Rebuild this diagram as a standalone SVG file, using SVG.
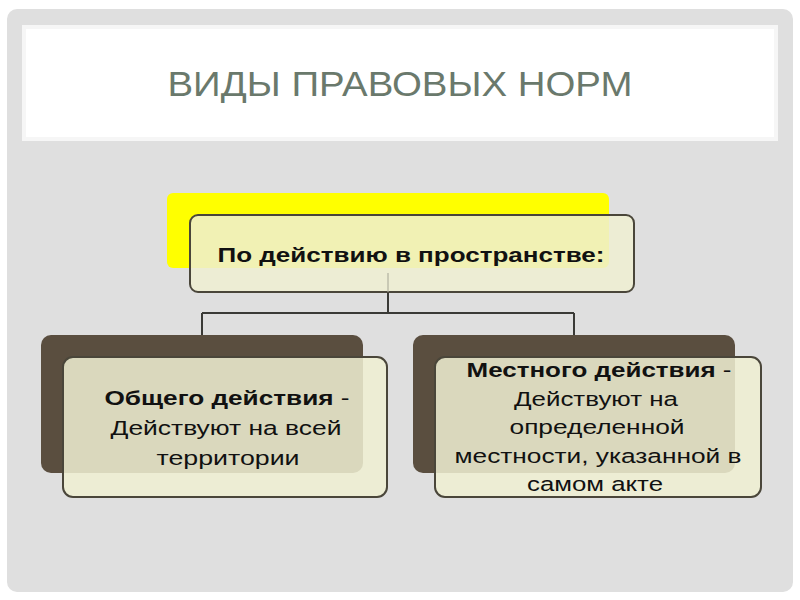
<svg xmlns="http://www.w3.org/2000/svg" width="800" height="600" viewBox="0 0 800 600">
<style>
.back{fill:#5a4e3f}
.front{fill:#efefd2;fill-opacity:0.86;stroke:#4a463a;stroke-width:2}
.t{font-family:"Liberation Sans",Arial,sans-serif;font-size:20.5px;fill:#111;text-anchor:middle}
.b{font-weight:bold}
.conn{stroke:#3a3a36;stroke-width:2;fill:none}
</style>
<rect width="800" height="600" fill="#ffffff"/>
<rect x="7" y="9" width="786" height="583" rx="10" fill="#dfdfdf"/>
<rect x="22" y="25" width="756" height="116" fill="#f6f6f6"/>
<rect x="26" y="29" width="748" height="108" fill="#ffffff"/>
<text x="400" y="96" font-family="'Liberation Sans',Arial,sans-serif" font-size="35" fill="#6a796c" text-anchor="middle" textLength="465" lengthAdjust="spacingAndGlyphs">ВИДЫ ПРАВОВЫХ НОРМ</text>
<g id="connectors">
<path class="conn" d="M388 273 V313 M202 313 H574 M202 313 V338 M574 313 V338" />
</g>
<g id="node-top">
<rect x="167" y="193" width="442" height="75" rx="6" fill="#ffff00"/>
<rect class="front" x="190" y="215" width="444" height="77" rx="8"/>
<line x1="388" y1="273" x2="388" y2="292" stroke="#bdbdae" stroke-width="1"/>
<text class="t b" x="411" y="262" textLength="387" lengthAdjust="spacingAndGlyphs">По действию в пространстве:</text>
</g>
<g id="node-left">
<rect class="back" x="41" y="335" width="322" height="138" rx="10"/>
<rect class="front" x="63" y="357" width="324" height="140" rx="10"/>
<text class="t" x="227" y="405" textLength="245" lengthAdjust="spacingAndGlyphs"><tspan class="b">Общего действия</tspan> -</text>
<text class="t" x="226" y="435" textLength="231" lengthAdjust="spacingAndGlyphs">Действуют на всей</text>
<text class="t" x="228" y="465" textLength="143" lengthAdjust="spacingAndGlyphs">территории</text>
</g>
<g id="node-right">
<rect class="back" x="413" y="335" width="322" height="138" rx="10"/>
<rect class="front" x="435" y="357" width="326" height="140" rx="10"/>
<text class="t" x="599" y="377" textLength="265" lengthAdjust="spacingAndGlyphs"><tspan class="b">Местного действия</tspan> -</text>
<text class="t" x="596" y="406" textLength="164" lengthAdjust="spacingAndGlyphs">Действуют на</text>
<text class="t" x="597" y="434" textLength="175" lengthAdjust="spacingAndGlyphs">определенной</text>
<text class="t" x="598" y="463" textLength="287" lengthAdjust="spacingAndGlyphs">местности, указанной в</text>
<text class="t" x="595" y="491" textLength="136" lengthAdjust="spacingAndGlyphs">самом акте</text>
</g>
</svg>
